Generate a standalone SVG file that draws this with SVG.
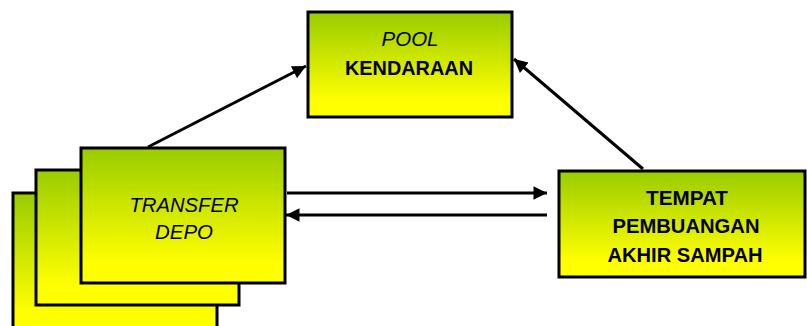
<svg xmlns="http://www.w3.org/2000/svg" width="807" height="326" viewBox="0 0 807 326">
<style>
.box{fill:url(#g);stroke:#000;stroke-width:3}
.t{font-family:"Liberation Sans",Arial,sans-serif;font-size:21px;font-weight:bold;text-anchor:middle;fill:#000}
.i{font-style:italic;font-weight:normal}
.c{stroke:#000;stroke-width:3;fill:none;marker-end:url(#a)}
</style>
<defs>
<linearGradient id="g" x1="0" y1="0" x2="0" y2="1">
<stop offset="0" stop-color="#99cc00"/>
<stop offset="0.85" stop-color="#ffff00"/>
<stop offset="1" stop-color="#ffff00"/>
</linearGradient>
<marker id="a" viewBox="0 0 10 10" refX="10" refY="5" markerWidth="5" markerHeight="4.5" markerUnits="strokeWidth" orient="auto">
<path d="M0,0 L10,5 L0,10 z" fill="#000"/>
</marker>
</defs>
<g id="connectors">
<line class="c" x1="148" y1="147" x2="306" y2="66"/>
<line class="c" x1="643" y1="169" x2="514" y2="59"/>
<line class="c" x1="287" y1="193" x2="547" y2="193"/>
<line class="c" x1="547" y1="215" x2="286" y2="215"/>
</g>
<g id="depo-back">
<rect class="box" x="13" y="193" width="204" height="140"/>
</g>
<g id="depo-middle">
<rect class="box" x="36" y="170" width="203" height="135"/>
</g>
<g id="transfer-depo">
<rect class="box" x="81" y="148" width="204" height="135"/>
<text class="t i" x="184" y="212" textLength="109" lengthAdjust="spacingAndGlyphs">TRANSFER</text>
<text class="t i" x="184" y="239" textLength="58" lengthAdjust="spacingAndGlyphs">DEPO</text>
</g>
<g id="pool">
<rect class="box" x="308" y="12" width="204" height="105"/>
<text class="t i" x="410" y="46" textLength="57" lengthAdjust="spacingAndGlyphs">POOL</text>
<text class="t" x="409" y="75" textLength="128" lengthAdjust="spacingAndGlyphs">KENDARAAN</text>
</g>
<g id="tpa">
<rect class="box" x="559" y="171" width="246" height="106"/>
<text class="t" x="687" y="205" textLength="82" lengthAdjust="spacingAndGlyphs">TEMPAT</text>
<text class="t" x="686" y="233" textLength="147" lengthAdjust="spacingAndGlyphs">PEMBUANGAN</text>
<text class="t" x="685" y="262" textLength="155" lengthAdjust="spacingAndGlyphs">AKHIR SAMPAH</text>
</g>
</svg>
